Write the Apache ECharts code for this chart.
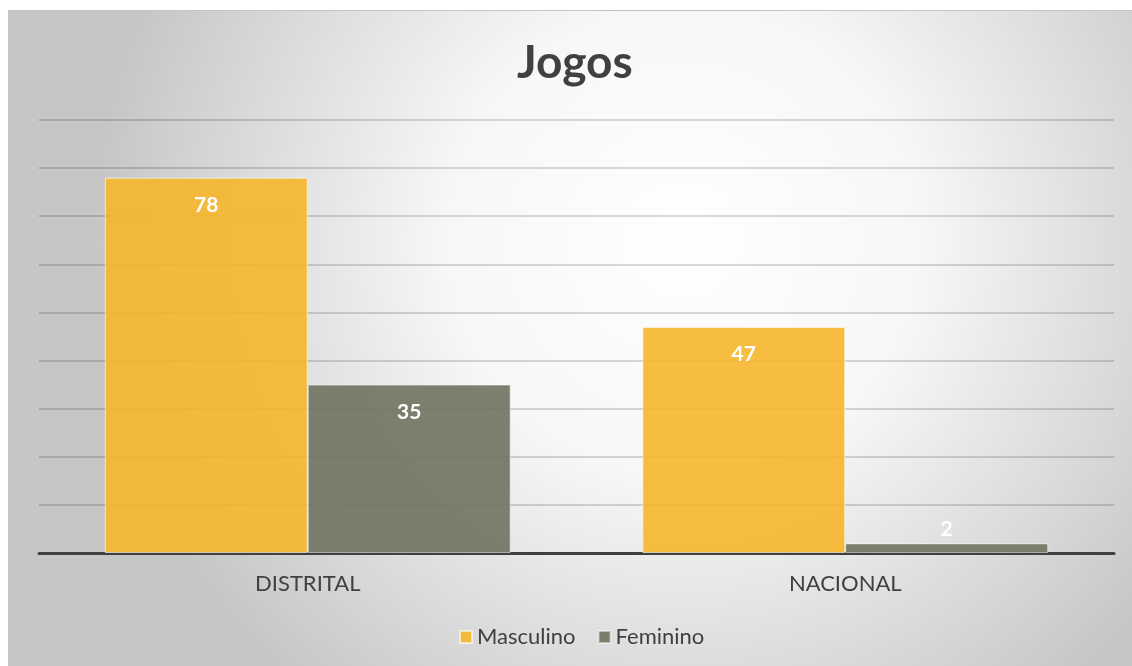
<!DOCTYPE html>
<html lang="pt">
<head>
    <meta charset="UTF-8"/>
    <script src="https://cdn.jsdelivr.net/npm/echarts@6/dist/echarts.min.js"></script>
    <title>Jogos</title>
    <style>
        html, body { margin: 0; padding: 0; background: #fff; }
        #main {
            position: absolute; left: 8px; top: 10px;
            width: 1124px; height: 656px;
            border-top: 1px solid #c4c4c4; border-left: 1px solid #c4c4c4;
        }
    </style>
</head>
<body>
<div id="main"></div>
<script type="text/javascript">
    var categories = ['DISTRITAL', 'NACIONAL'];
    var masculino = [78, 47];
    var feminino = [35, 2];

    var myChart = echarts.init(document.getElementById('main'));

    var labelStyle = {
        show: true,
        position: 'insideTop',
        distance: 17,
        color: '#fff',
        fontFamily: 'Lato',
        fontWeight: 'bold',
        fontSize: 21
    };

    // rótulos pequenos ficam acima da barra
    function toData(arr) {
        return arr.map(function (v) {
            if (v < 5) {
                return {value: v, label: {position: 'top', distance: 4}};
            }
            return v;
        });
    }

    var option = {
        backgroundColor: {
            type: 'radial', x: 0.6, y: 0.35, r: 0.9,
            colorStops: [
                {offset: 0, color: '#ffffff'},
                {offset: 0.4, color: '#f7f7f7'},
                {offset: 1, color: '#c6c6c6'}
            ]
        },
        title: {
            text: 'Jogos',
            left: 503,
            top: 24,
            textStyle: {fontFamily: 'Lato', fontWeight: 'bold', fontSize: 46, color: '#404040'}
        },
        legend: {
            top: 610,
            left: 445,
            itemWidth: 12,
            itemHeight: 12,
            itemGap: 22,
            icon: 'rect',
            textStyle: {fontFamily: 'Lato', fontSize: 22, color: '#404040'},
            data: ['Masculino', 'Feminino']
        },
        grid: {left: 30, right: 19, top: 109, bottom: 114},
        xAxis: {
            type: 'category',
            data: categories,
            axisLine: {lineStyle: {color: '#404040', width: 3}},
            axisTick: {show: false},
            axisLabel: {fontFamily: 'Lato', fontSize: 22, color: '#404040', margin: 20}
        },
        yAxis: {
            type: 'value',
            min: 0, max: 90, interval: 10,
            axisLabel: {show: false},
            axisLine: {show: false},
            axisTick: {show: false},
            splitLine: {lineStyle: {color: 'rgba(0,0,0,0.2)', width: 1.5}}
        },
        series: [
            {
                name: 'Masculino',
                type: 'bar',
                data: toData(masculino),
                barGap: '0%',
                barCategoryGap: '24.5%',
                itemStyle: {color: 'rgba(245,182,44,0.9)', borderColor: 'rgba(255,255,255,0.6)', borderWidth: 1},
                label: labelStyle
            },
            {
                name: 'Feminino',
                type: 'bar',
                data: toData(feminino),
                itemStyle: {color: 'rgba(112,118,98,0.92)', borderColor: 'rgba(255,255,255,0.5)', borderWidth: 1},
                label: labelStyle
            }
        ]
    };

    myChart.setOption(option);
</script>
</body>
</html>
